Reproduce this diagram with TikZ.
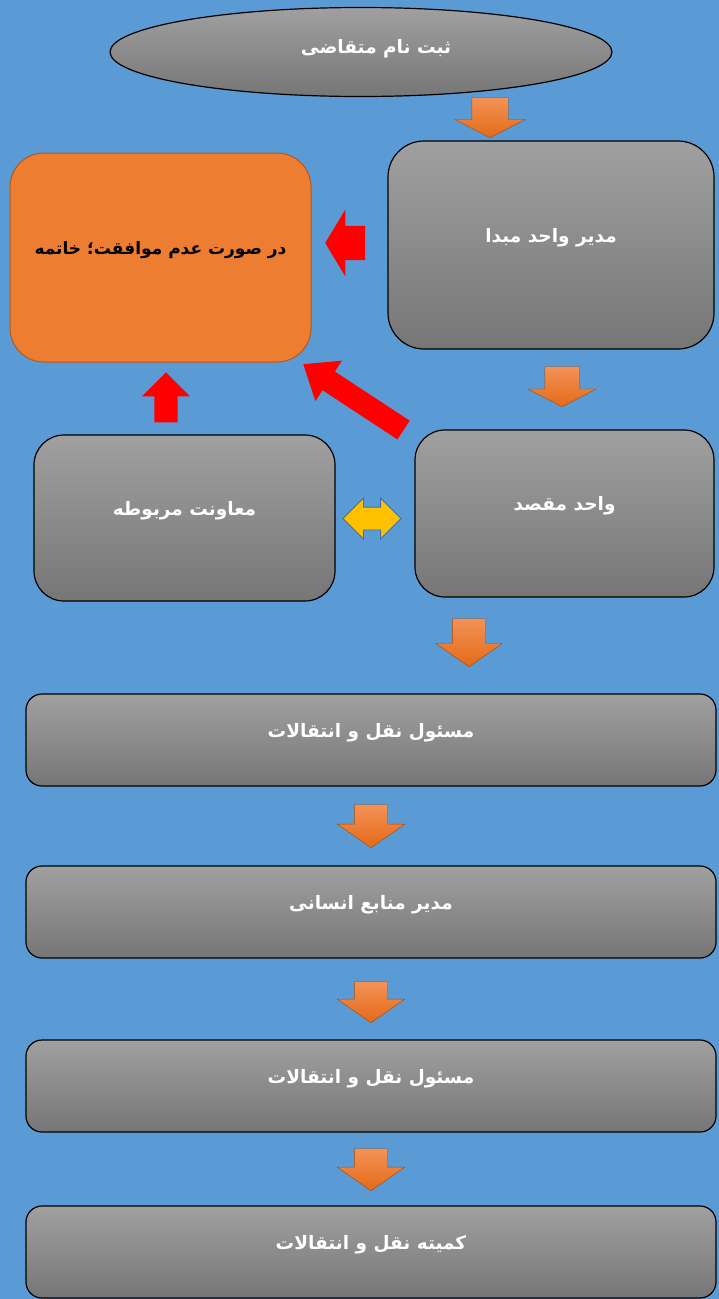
\documentclass[tikz,border=0pt]{standalone}
\usepackage{fontspec}
\usetikzlibrary{shapes.geometric,shapes.arrows}
\TeXXeTstate=1
\newfontfamily\arabicfont[Script=Arabic]{DejaVu Sans}
\definecolor{bgblue}{RGB}{91,155,213}
\definecolor{boxtop}{RGB}{160,160,160}
\definecolor{boxbot}{RGB}{118,118,118}
\definecolor{endorange}{RGB}{237,125,49}
\definecolor{endborder}{RGB}{174,90,33}
\definecolor{flowtop}{RGB}{243,146,86}
\definecolor{flowbot}{RGB}{228,106,24}
\definecolor{stopred}{RGB}{255,0,0}
\definecolor{linkyellow}{RGB}{255,192,0}
\definecolor{linkborder}{RGB}{65,113,156}

\begin{document}
\begin{tikzpicture}[x=1pt, y=-1pt,
    every node/.style={font=\arabicfont\bfseries\fontsize{18.5}{22}\selectfont, inner sep=0pt},
    boxtext/.style={text height=10pt, text depth=16pt},
    stage/.style={boxtext, draw=black, line width=1.2pt, top color=boxtop, bottom color=boxbot, text=white, rounded corners=#1},
    stage/.default=36pt,
    flowarrow/.style={single arrow, anchor=tip, rotate=-90, top color=flowtop, bottom color=flowbot, draw=flowbot!70!black, line width=0.4pt},
    stoparrow/.style={single arrow, anchor=tip, fill=stopred},
    linkarrow/.style={double arrow, fill=linkyellow, draw=linkborder, line width=0.8pt}
  ]
    \fill[bgblue] (0,0) rectangle (719,1299);
    \useasboundingbox (0,0) rectangle (719,1299);
    % top of the flow
    \node[ellipse, text height=14pt, text depth=12pt, draw=black, line width=1.2pt, top color=boxtop, bottom color=boxbot, text=white,
          minimum width=502pt, minimum height=89pt] (reg) at (361,52) {\kern30pt\beginR ثبت نام متقاضی\endR};
    \node[stage, minimum width=326pt, minimum height=208pt] (srcmgr) at (551,245) {\beginR مدیر واحد مبدا\endR};
    \node[boxtext, draw=endborder, line width=1pt, fill=endorange, rounded corners=34pt, text=black,
          font=\arabicfont\bfseries\fontsize{17}{20}\selectfont,
          minimum width=301pt, minimum height=209pt] (reject) at (160.5,257.5) {\beginR در صورت عدم موافقت؛ خاتمه\endR};
    \node[stage=30pt, minimum width=301pt, minimum height=166pt] (deputy) at (184.5,518) {\beginR معاونت مربوطه\endR};
    \node[stage=30pt, minimum width=299pt, minimum height=167pt] (dest) at (564.5,513.5) {\beginR واحد مقصد\endR};
    % full width steps
    \node[stage=16pt, minimum width=690pt, minimum height=92pt] (transfer1) at (371,740) {\beginR مسئول نقل و انتقالات\endR};
    \node[stage=16pt, minimum width=690pt, minimum height=92pt] (hrmgr) at (371,912) {\beginR مدیر منابع انسانی\endR};
    \node[stage=16pt, minimum width=690pt, minimum height=92pt] (transfer2) at (371,1086) {\beginR مسئول نقل و انتقالات\endR};
    \node[stage=16pt, minimum width=690pt, minimum height=92pt] (committee) at (371,1252) {\beginR کمیته نقل و انتقالات\endR};
    % block arrows, placed by their tips
    \node[flowarrow, inner ysep=18pt, minimum height=40pt, single arrow head extend=17pt, single arrow tip angle=125] (down1) at (490,138) {};
    \node[flowarrow, inner ysep=17pt, minimum height=40pt, single arrow head extend=17pt, single arrow tip angle=125] (down2) at (562,407) {};
    \node[flowarrow, inner ysep=16.5pt, minimum height=48pt, single arrow head extend=16.5pt, single arrow tip angle=110] (down3) at (469,667) {};
    \node[flowarrow, inner ysep=16.5pt, minimum height=43pt, single arrow head extend=17pt, single arrow tip angle=110] (down4) at (371,848) {};
    \node[flowarrow, inner ysep=16.5pt, minimum height=41pt, single arrow head extend=17pt, single arrow tip angle=110] (down5) at (371,1023) {};
    \node[flowarrow, inner ysep=16.5pt, minimum height=42pt, single arrow head extend=17pt, single arrow tip angle=110] (down6) at (371,1191) {};
    \node[stoparrow, rotate=180, inner ysep=17pt, minimum height=40pt, single arrow head extend=16.5pt, single arrow tip angle=118] (stopleft) at (325,243) {};
    \node[stoparrow, rotate=90, inner ysep=11.5pt, minimum height=50pt, single arrow head extend=12.5pt, single arrow tip angle=90] (stopup) at (166,372) {};
    \node[stoparrow, rotate=146.7, inner ysep=11pt, minimum height=120pt, single arrow head extend=13pt, single arrow tip angle=77] (stopdiag) at (303,364) {};
    \node[linkarrow, inner ysep=11pt, minimum height=58pt, double arrow head extend=9pt, double arrow tip angle=90] (link) at (372,518.5) {};
  \end{tikzpicture}
\end{document}
